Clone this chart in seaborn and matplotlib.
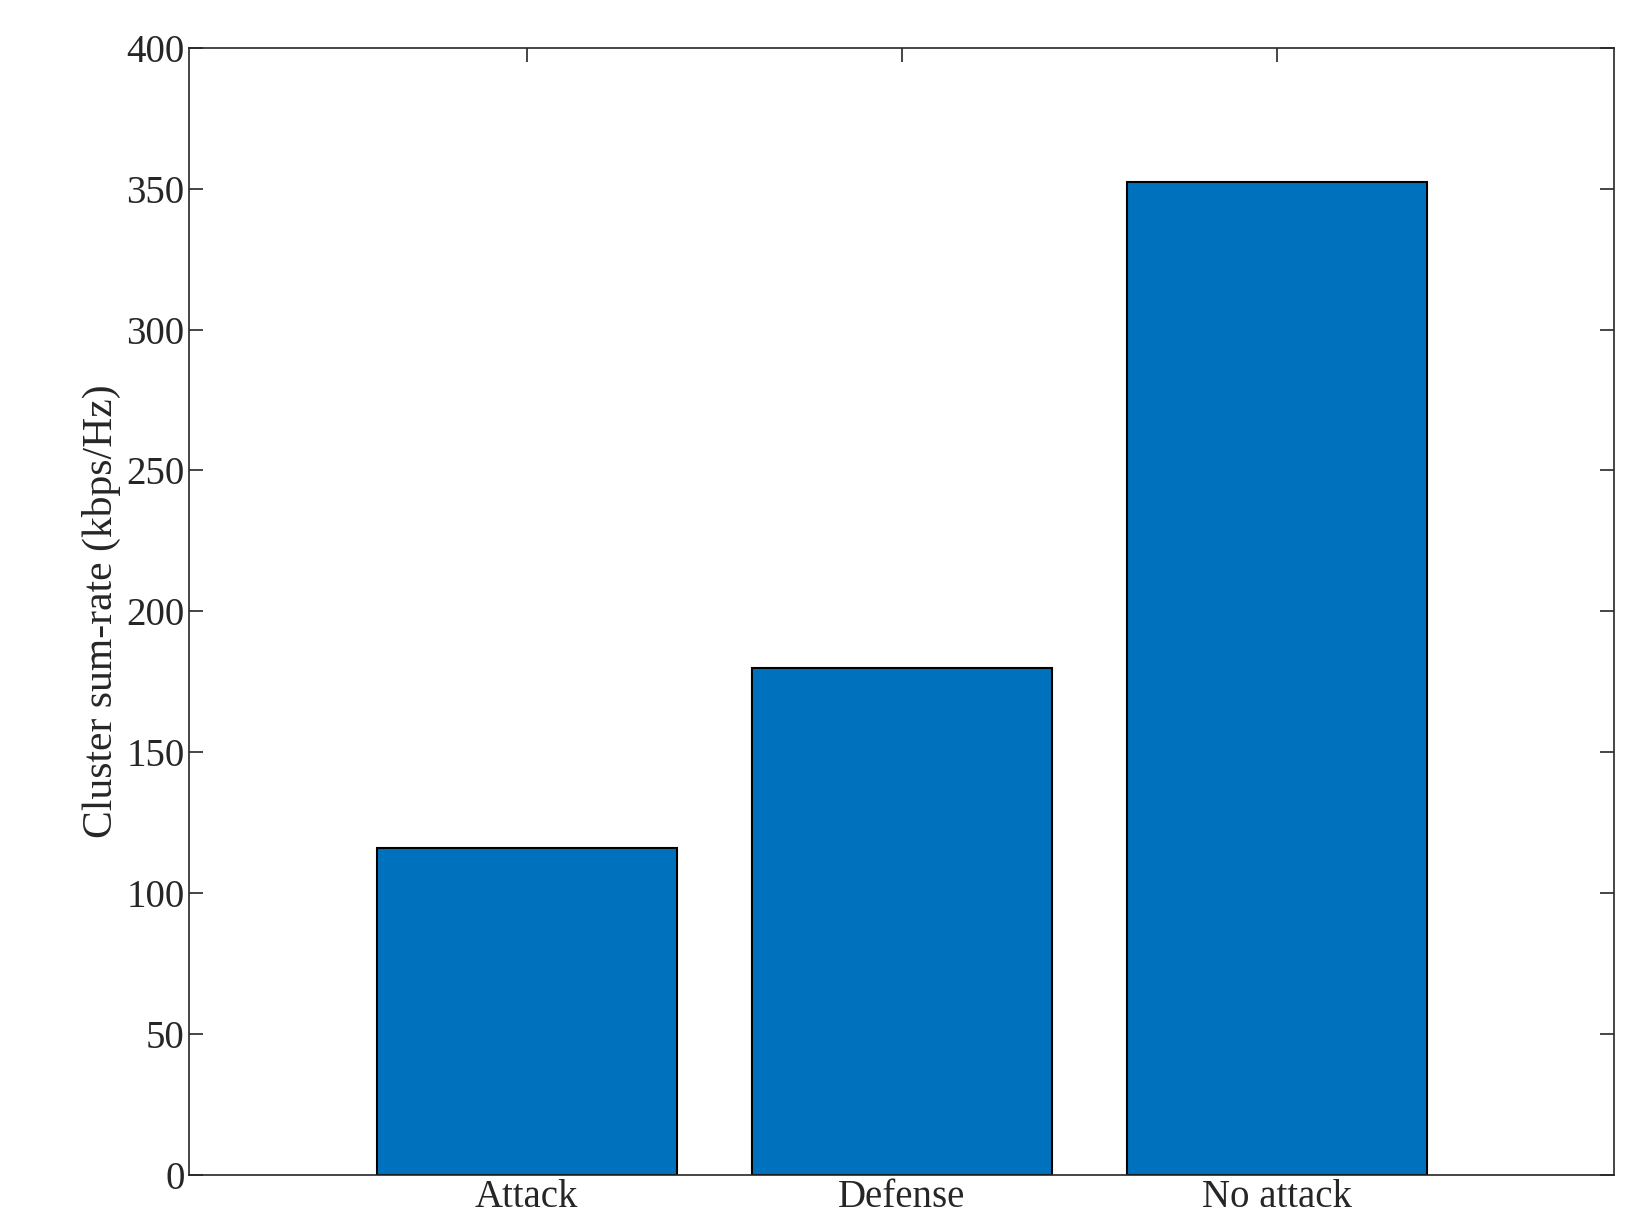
import matplotlib
matplotlib.use("Agg")
import matplotlib.pyplot as plt
import seaborn as sns
import pandas as pd

categories = ["Attack", "Defense", "No attack"]
values = [116, 180, 352.5]

sns.set_style("ticks")
plt.rcParams['font.family'] = ['Liberation Serif', 'DejaVu Serif']
plt.rcParams['xtick.direction'] = 'in'
plt.rcParams['ytick.direction'] = 'in'

df = pd.DataFrame({"cat": categories, "val": values})
fig = plt.figure(figsize=(16.52, 12.29), dpi=100)
ax = fig.add_axes([0.1146, 0.0443, 0.8624, 0.9167])
sns.barplot(data=df, x="cat", y="val", color="#0072BD", saturation=1,
            width=0.8, edgecolor="black", linewidth=1.5, ax=ax)
ax.set_xlim(-0.9, 2.9)
ax.set_ylim(0, 400)
ax.set_yticks(range(0, 401, 50))
ax.set_xlabel("")
ax.set_ylabel("Cluster sum-rate (kbps/Hz)", fontsize=30)
ax.tick_params(labelsize=28, length=10, width=1.2, top=True, right=True)
for s in ax.spines.values():
    s.set_linewidth(1.2)
    s.set_color("#262626")
fig.savefig("out.png", dpi=100)
